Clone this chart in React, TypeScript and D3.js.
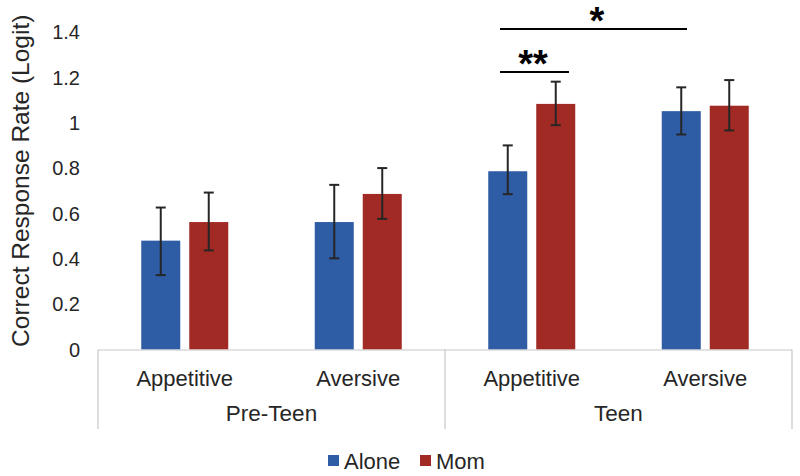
import React from "react";
import * as d3 from "d3";

const groups = ["Pre-Teen", "Teen"];
const categories = ["Appetitive", "Aversive", "Appetitive", "Aversive"];
const categoryGroup = [0, 0, 1, 1];
const series = ["Alone", "Mom"];
const aloneValues = [0.48, 0.562, 0.786, 1.051];
const momValues = [0.562, 0.686, 1.083, 1.075];
const aloneLow = [0.328, 0.402, 0.685, 0.948];
const aloneHigh = [0.626, 0.726, 0.9, 1.156];
const momLow = [0.437, 0.576, 0.989, 0.966];
const momHigh = [0.692, 0.8, 1.181, 1.188];
const yTicks = [0, 0.2, 0.4, 0.6, 0.8, 1, 1.2, 1.4];
const colors = ["#2E5DA5", "#A12A25"];

export default function App() {
  const W = 800, H = 476;
  const left = 98, right = 792, top = 32, base = 349.5;
  const x = d3.scaleBand<number>().domain(d3.range(categories.length)).range([left, right]).paddingInner(0).paddingOuter(0);
  const y = d3.scaleLinear().domain([0, 1.4]).range([base, top]);
  const bw = 39, gap = 9;
  const font = "'Liberation Sans', Arial, Helvetica, sans-serif";
  const textColor = "#262626";
  const allVals = [aloneValues, momValues];
  const lows = [aloneLow, momLow];
  const highs = [aloneHigh, momHigh];
  const barX = (i: number, s: number) => (x(i)! + x.bandwidth() / 2) + (s === 0 ? -gap / 2 - bw : gap / 2);
  const groupX = (g: number) => {
    const idx = categories.map((_, i) => i).filter(i => categoryGroup[i] === g);
    return [x(idx[0])!, x(idx[idx.length - 1])! + x.bandwidth()];
  };
  const boxBottom = 429;
  const cx = (i: number, s: number) => barX(i, s) + bw / 2;
  return (
    <svg width={W} height={H} style={{ position: "absolute", left: 0, top: 0, background: "#fff" }} fontFamily={font}>
      {yTicks.map(t => (
        <text key={t} x={80} y={y(t)} dy="0.36em" textAnchor="end" fontSize={20} fill={textColor}>{d3.format("~g")(t)}</text>
      ))}
      <text transform={`translate(29,${(top + base) / 2 - 10}) rotate(-90)`} textAnchor="middle" fontSize={24.5} fill={textColor}>Correct Response Rate (Logit)</text>
      {series.map((s, si) => categories.map((c, i) => (
        <rect key={s + i} x={barX(i, si)} width={bw} y={y(allVals[si][i])} height={base - y(allVals[si][i])} fill={colors[si]} />
      )))}
      {series.map((s, si) => categories.map((c, i) => (
        <g key={"e" + s + i} stroke="#262626" strokeWidth={2}>
          <line x1={cx(i, si)} x2={cx(i, si)} y1={y(lows[si][i])} y2={y(highs[si][i])} />
          <line x1={cx(i, si) - 5} x2={cx(i, si) + 5} y1={y(lows[si][i])} y2={y(lows[si][i])} />
          <line x1={cx(i, si) - 5} x2={cx(i, si) + 5} y1={y(highs[si][i])} y2={y(highs[si][i])} />
        </g>
      )))}
      <g stroke="#c8c8c8" strokeWidth={1.2} fill="none">
        <line x1={left} x2={right} y1={base + 0.5} y2={base + 0.5} />
        <line x1={left} x2={left} y1={base} y2={boxBottom} />
        <line x1={right} x2={right} y1={base} y2={boxBottom} />
        {groups.slice(1).map((g, gi) => (
          <line key={g} x1={groupX(gi)[1]} x2={groupX(gi)[1]} y1={base} y2={boxBottom} />
        ))}
      </g>
      {categories.map((c, i) => (
        <text key={"c" + i} x={x(i)! + x.bandwidth() / 2} y={378} dy="0.36em" textAnchor="middle" fontSize={22} fill={textColor}>{c}</text>
      ))}
      {groups.map((g, gi) => {
        const [a, b] = groupX(gi);
        return <text key={g} x={(a + b) / 2} y={413} dy="0.36em" textAnchor="middle" fontSize={22.5} fill={textColor}>{g}</text>;
      })}
      <g stroke="#000" strokeWidth={2}>
        <line x1={500} x2={687} y1={29} y2={29} />
        <line x1={500} x2={569} y1={72} y2={72} />
      </g>
      <text x={597} y={34} textAnchor="middle" fontSize={38} fontWeight="bold" fill="#000">*</text>
      <text x={533} y={77} textAnchor="middle" fontSize={38} fontWeight="bold" fill="#000">**</text>
      {series.map((s, si) => {
        const lx = [328, 420][si];
        return (
          <g key={s}>
            <rect x={lx} y={455} width={11} height={11} fill={colors[si]} />
            <text x={lx + 16} y={461} dy="0.36em" fontSize={22} fill={textColor}>{s}</text>
          </g>
        );
      })}
    </svg>
  );
}
